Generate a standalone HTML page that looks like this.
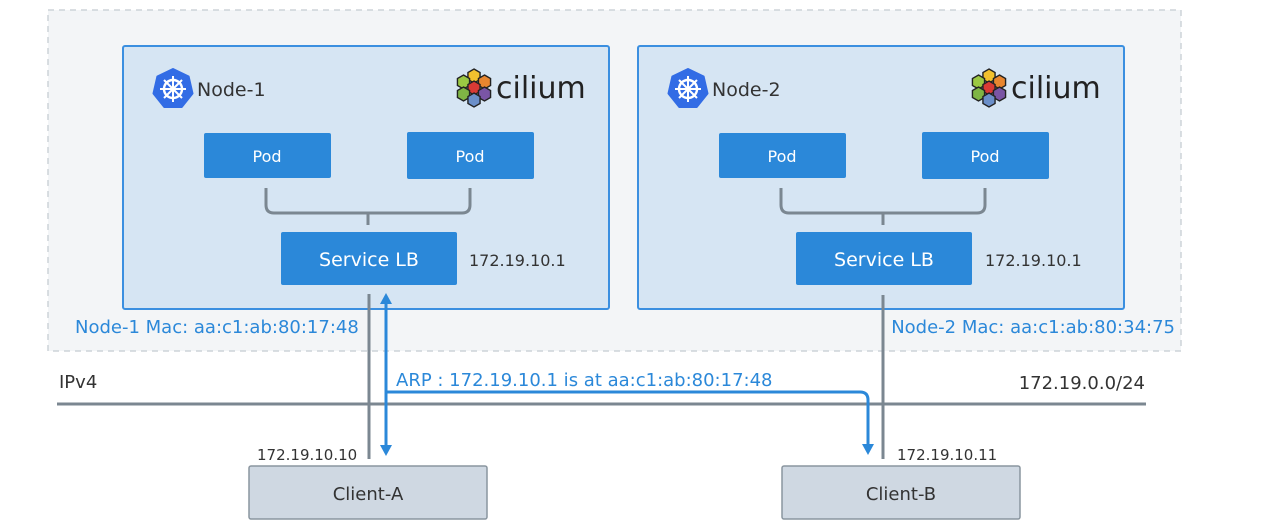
<!DOCTYPE html>
<html><head><meta charset="utf-8"><style>
html,body{margin:0;padding:0;background:#fff;}
svg{display:block;font-family:"DejaVu Sans","Liberation Sans",sans-serif;}
</style></head><body>
<svg width="1280" height="530" viewBox="0 0 1280 530" xmlns="http://www.w3.org/2000/svg">
<defs>
<g id="hex"><polygon points="0,-7 6.06,-3.5 6.06,3.5 0,7 -6.06,3.5 -6.06,-3.5" stroke="#222" stroke-width="1.4"/></g>
<g id="cil">
<use href="#hex" x="0" y="-12" fill="#f2c12e"/>
<use href="#hex" x="-10.5" y="-6" fill="#9bc843"/>
<use href="#hex" x="10.5" y="-6" fill="#e8862f"/>
<use href="#hex" x="0" y="0" fill="#d93a35"/>
<use href="#hex" x="-10.5" y="6" fill="#7fb545"/>
<use href="#hex" x="10.5" y="6" fill="#7a55a5"/>
<use href="#hex" x="0" y="12" fill="#6b8fc9"/>
</g>
<g id="k8s">
<polygon points="0,-20 15.6,-12.5 19.5,4.5 8.7,18 -8.7,18 -19.5,4.5 -15.6,-12.5" fill="#326ce5" stroke="#326ce5" stroke-width="2" stroke-linejoin="round"/>
<circle r="9" fill="none" stroke="#fff" stroke-width="2.4"/>
<circle r="2.5" fill="#fff"/>
<g stroke="#fff" stroke-width="2">
<line x1="0" y1="-13" x2="0" y2="13"/><line x1="-13" y1="0" x2="13" y2="0"/>
<line x1="-9" y1="-9" x2="9" y2="9"/><line x1="9" y1="-9" x2="-9" y2="9"/>
</g>
</g>
</defs>
<rect x="48" y="10" width="1133" height="341" fill="#f3f5f7" stroke="#cdd3d8" stroke-width="1.5" stroke-dasharray="6,5"/>
<!-- Node 1 -->
<rect x="123" y="46" width="486" height="263" fill="#d6e5f3" stroke="#3b8fe0" stroke-width="2" rx="2"/>
<use href="#k8s" x="173" y="89"/>
<text x="197" y="96" font-size="19" fill="#333">Node-1</text>
<use href="#cil" x="474" y="88"/>
<text x="496" y="98" font-size="30" fill="#222">cilium</text>
<rect x="204" y="133" width="127" height="45" fill="#2b88d9" rx="2"/>
<text x="267" y="162" font-size="16" fill="#fff" text-anchor="middle">Pod</text>
<rect x="407" y="132" width="127" height="47" fill="#2b88d9" rx="2"/>
<text x="470" y="162" font-size="16" fill="#fff" text-anchor="middle">Pod</text>
<path d="M266 188 V205 Q266 213 274 213 H462 Q470 213 470 205 V188 M368 213 V225" fill="none" stroke="#7b8791" stroke-width="3"/>
<rect x="281" y="232" width="176" height="53" fill="#2b88d9" rx="2"/>
<text x="369" y="266" font-size="19" fill="#fff" text-anchor="middle">Service LB</text>
<text x="469" y="266" font-size="16" fill="#333">172.19.10.1</text>
<!-- Node 2 -->
<rect x="638" y="46" width="486" height="263" fill="#d6e5f3" stroke="#3b8fe0" stroke-width="2" rx="2"/>
<use href="#k8s" x="688" y="89"/>
<text x="712" y="96" font-size="19" fill="#333">Node-2</text>
<use href="#cil" x="989" y="88"/>
<text x="1011" y="98" font-size="30" fill="#222">cilium</text>
<rect x="719" y="133" width="127" height="45" fill="#2b88d9" rx="2"/>
<text x="782" y="162" font-size="16" fill="#fff" text-anchor="middle">Pod</text>
<rect x="922" y="132" width="127" height="47" fill="#2b88d9" rx="2"/>
<text x="985" y="162" font-size="16" fill="#fff" text-anchor="middle">Pod</text>
<path d="M781 188 V205 Q781 213 789 213 H977 Q985 213 985 205 V188 M883 213 V225" fill="none" stroke="#7b8791" stroke-width="3"/>
<rect x="796" y="232" width="176" height="53" fill="#2b88d9" rx="2"/>
<text x="884" y="266" font-size="19" fill="#fff" text-anchor="middle">Service LB</text>
<text x="985" y="266" font-size="16" fill="#333">172.19.10.1</text>
<text x="75" y="333" font-size="18" fill="#2b88d9">Node-1 Mac: aa:c1:ab:80:17:48</text>
<text x="1175" y="333" font-size="18" fill="#2b88d9" text-anchor="end">Node-2 Mac: aa:c1:ab:80:34:75</text>
<!-- network -->
<line x1="57" y1="404" x2="1146" y2="404" stroke="#7b8791" stroke-width="3"/>
<text x="59" y="388" font-size="18" fill="#333">IPv4</text>
<text x="1145" y="389" font-size="18" fill="#333" text-anchor="end">172.19.0.0/24</text>
<line x1="369" y1="294" x2="369" y2="459" stroke="#7b8791" stroke-width="3"/>
<line x1="883" y1="295" x2="883" y2="459" stroke="#7b8791" stroke-width="3"/>
<line x1="386" y1="302" x2="386" y2="448" stroke="#2b88d9" stroke-width="3"/>
<polygon points="386,293 380,304 392,304" fill="#2b88d9"/>
<polygon points="386,456 380,445 392,445" fill="#2b88d9"/>
<path d="M386 392 H860 Q868 392 868 400 V446" fill="none" stroke="#2b88d9" stroke-width="3"/>
<polygon points="868,455 862,444 874,444" fill="#2b88d9"/>
<text x="396" y="386" font-size="18" fill="#2b88d9">ARP : 172.19.10.1 is at aa:c1:ab:80:17:48</text>
<text x="257" y="460" font-size="15" fill="#333">172.19.10.10</text>
<text x="897" y="460" font-size="15" fill="#333">172.19.10.11</text>
<rect x="249" y="466" width="238" height="53" fill="#cfd8e2" stroke="#8a959f" stroke-width="1.5" rx="2"/>
<text x="368" y="500" font-size="18" fill="#333" text-anchor="middle">Client-A</text>
<rect x="782" y="466" width="238" height="53" fill="#cfd8e2" stroke="#8a959f" stroke-width="1.5" rx="2"/>
<text x="901" y="500" font-size="18" fill="#333" text-anchor="middle">Client-B</text>
</svg>
</body></html>
